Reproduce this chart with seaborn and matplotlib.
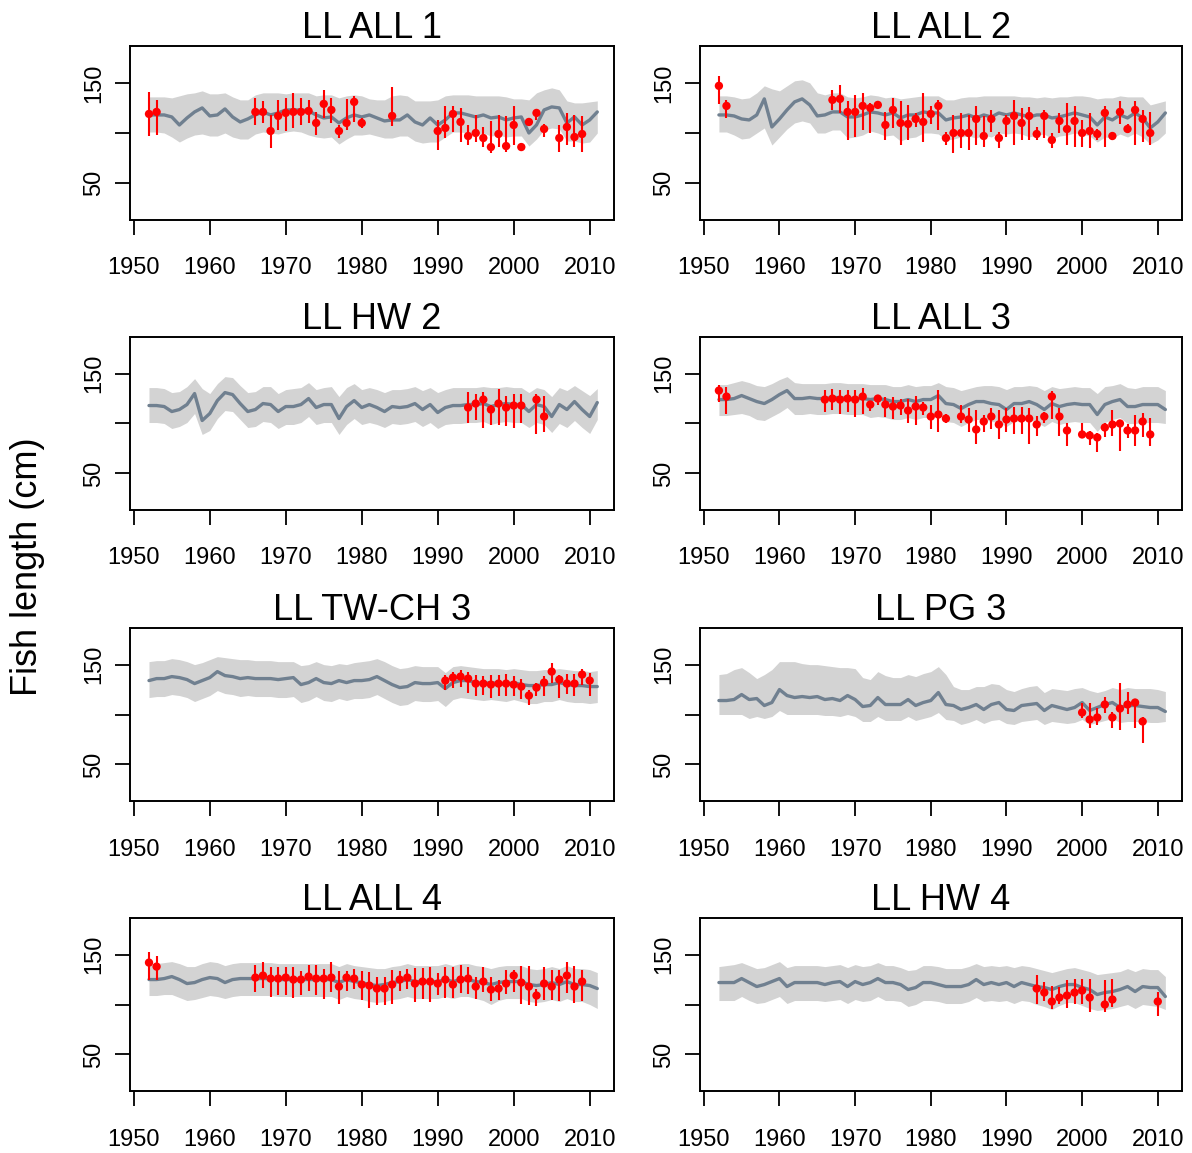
import numpy as np
import seaborn as sns
import matplotlib.pyplot as plt

# model years (median and 95% band are given per year)
years = list(range(1952, 2012))

# ---- LL ALL 1
med1 = [118, 118, 118, 116, 108, 115, 121, 125, 117, 118,
        124, 116, 111, 114, 118, 121, 118, 120, 123, 123,
        123, 122, 118, 115, 116, 110, 115, 118, 116, 118,
        115, 112, 113, 113, 118, 111, 108, 115, 108, 113,
        120, 120, 118, 116, 118, 115, 116, 113, 115, 116,
        100, 108, 123, 126, 125, 110, 116, 108, 113, 121]
hi1 = [136, 136, 136, 135, 137, 139, 140, 142, 139, 139,
       140, 136, 133, 133, 138, 140, 140, 140, 139, 140,
       140, 140, 137, 138, 138, 135, 137, 138, 137, 134,
       133, 133, 137, 138, 137, 132, 132, 132, 133, 137,
       138, 138, 138, 137, 137, 137, 137, 136, 134, 134,
       133, 140, 143, 145, 143, 132, 130, 130, 131, 132]
lo1 = [101, 101, 100, 96, 91, 95, 98, 99, 97, 97,
       100, 96, 94, 94, 99, 101, 100, 99, 101, 102,
       101, 98, 96, 95, 96, 89, 94, 98, 98, 99,
       97, 95, 95, 97, 97, 92, 90, 91, 91, 96,
       101, 101, 100, 98, 100, 97, 98, 96, 97, 97,
       87, 94, 103, 105, 104, 92, 92, 90, 91, 100]
oyr1 = [1952, 1953, 1966, 1967, 1968, 1969, 1970, 1971, 1972, 1973,
        1974, 1975, 1976, 1977, 1978, 1979, 1980, 1984, 1990, 1991,
        1992, 1993, 1994, 1995, 1996, 1997, 1998, 1999, 2000, 2001,
        2002, 2003, 2004, 2006, 2007, 2008, 2009]
oval1 = [119, 121, 121, 121, 102, 117, 120, 121, 121, 122,
         110, 129, 123, 102, 110, 131, 110, 117, 102, 105,
         119, 111, 97, 100, 95, 86, 99, 87, 108, 86,
         111, 120, 104, 95, 106, 96, 99]
olo1 = [97, 98, 108, 110, 85, 103, 102, 105, 108, 110,
        98, 115, 110, 95, 103, 111, 105, 107, 83, 95,
        101, 91, 88, 91, 86, 80, 86, 81, 88, 83,
        107, 113, 96, 81, 88, 86, 81]
ohi1 = [141, 133, 135, 132, 118, 133, 135, 140, 135, 133,
        121, 143, 135, 108, 134, 137, 115, 146, 113, 127,
        127, 125, 108, 118, 106, 112, 118, 117, 127, 90,
        115, 123, 109, 108, 120, 118, 117]

# ---- LL ALL 2
med2 = [118, 118, 117, 114, 113, 118, 134, 106, 114, 123,
        131, 134, 128, 117, 118, 121, 121, 116, 116, 118,
        121, 120, 118, 120, 115, 118, 118, 121, 120, 120,
        113, 115, 116, 118, 115, 118, 116, 120, 118, 120,
        118, 116, 118, 118, 115, 116, 118, 120, 118, 116,
        108, 116, 113, 118, 115, 120, 115, 105, 111, 120]
hi2 = [137, 137, 136, 134, 135, 140, 147, 144, 142, 147,
       152, 153, 150, 140, 138, 140, 140, 136, 135, 136,
       138, 137, 135, 136, 134, 135, 136, 137, 137, 137,
       133, 133, 135, 136, 136, 137, 137, 137, 137, 137,
       136, 136, 135, 136, 135, 136, 136, 137, 137, 136,
       134, 135, 135, 137, 136, 136, 136, 128, 130, 132]
lo2 = [101, 101, 98, 94, 95, 100, 105, 88, 96, 104,
       110, 112, 110, 100, 100, 103, 103, 95, 96, 98,
       102, 100, 97, 98, 92, 95, 96, 100, 100, 99,
       93, 94, 96, 97, 95, 98, 96, 100, 99, 100,
       99, 96, 98, 99, 94, 97, 98, 100, 99, 97,
       91, 96, 95, 99, 96, 100, 96, 89, 93, 100]
oyr2 = [1952, 1953] + list(range(1967, 2010))
oval2 = [147, 127,
         133, 134, 121, 121, 127, 125, 128, 108, 123, 110,
         109, 114, 111, 119, 127, 95, 100, 100, 100, 114,
         97, 114, 95, 112, 117, 110, 117, 99, 117, 93,
         112, 104, 112, 100, 102, 99, 120, 97, 121, 104,
         123, 114, 100]
olo2 = [129, 115,
        123, 120, 93, 96, 103, 100, 125, 93, 105, 88,
        93, 106, 91, 109, 103, 88, 80, 85, 83, 88,
        86, 101, 85, 96, 88, 93, 93, 93, 95, 85,
        100, 88, 86, 86, 85, 93, 86, 93, 109, 100,
        88, 91, 88]
ohi2 = [157, 133,
        143, 148, 132, 138, 140, 130, 130, 121, 135, 132,
        128, 120, 140, 127, 133, 101, 118, 120, 118, 127,
        117, 123, 101, 118, 133, 125, 126, 106, 123, 100,
        120, 130, 127, 113, 120, 104, 127, 101, 132, 109,
        132, 123, 121]

# ---- LL HW 2
med3 = [118, 118, 117, 112, 114, 119, 130, 103, 110, 123,
        131, 129, 120, 112, 114, 120, 119, 112, 117, 117,
        119, 125, 116, 119, 119, 105, 117, 123, 116, 119,
        116, 112, 117, 116, 117, 120, 114, 119, 111, 116,
        118, 118, 119, 119, 120, 117, 119, 120, 119, 119,
        112, 119, 117, 107, 119, 114, 122, 114, 107, 121]
hi3 = [136, 136, 135, 131, 132, 137, 145, 135, 130, 140,
       147, 146, 138, 131, 132, 137, 137, 130, 134, 135,
       136, 141, 134, 136, 137, 127, 136, 140, 134, 136,
       134, 131, 134, 134, 135, 137, 133, 136, 131, 134,
       136, 136, 136, 136, 137, 136, 136, 137, 136, 136,
       131, 136, 134, 127, 136, 133, 138, 133, 128, 135]
lo3 = [101, 101, 100, 95, 97, 101, 110, 89, 93, 105,
       113, 112, 104, 96, 97, 102, 101, 95, 99, 99,
       101, 107, 99, 101, 101, 89, 99, 105, 99, 101,
       99, 96, 100, 99, 100, 102, 97, 101, 95, 99,
       100, 100, 101, 101, 102, 99, 101, 102, 101, 101,
       96, 101, 99, 91, 100, 96, 103, 96, 90, 104]
oyr3 = [1994, 1995, 1996, 1997, 1998, 1999, 2000, 2001, 2003, 2004]
oval3 = [116, 120, 124, 114, 120, 116, 118, 118, 124, 107]
olo3 = [100, 104, 95, 98, 98, 97, 95, 101, 89, 91]
ohi3 = [132, 130, 132, 119, 135, 128, 130, 130, 130, 128]

# ---- LL ALL 3
med4 = [124, 124, 125, 128, 125, 122, 120, 124, 129, 133,
        125, 125, 126, 125, 125, 126, 126, 125, 125, 125,
        124, 125, 124, 122, 122, 124, 122, 124, 124, 128,
        120, 119, 115, 119, 122, 122, 120, 119, 114, 120,
        120, 122, 119, 114, 120, 117, 119, 120, 119, 119,
        109, 119, 122, 124, 117, 117, 119, 119, 119, 114]
hi4 = [139, 139, 141, 143, 141, 138, 137, 140, 144, 147,
       141, 140, 140, 140, 140, 141, 141, 140, 140, 140,
       139, 139, 139, 137, 137, 139, 137, 138, 138, 141,
       137, 136, 133, 135, 137, 138, 138, 137, 134, 137,
       137, 138, 137, 133, 137, 135, 136, 137, 136, 136,
       130, 137, 138, 140, 136, 135, 137, 137, 137, 133]
lo4 = [108, 108, 109, 110, 108, 104, 103, 107, 111, 116,
       109, 109, 110, 109, 109, 110, 110, 109, 109, 109,
       106, 107, 106, 104, 104, 106, 104, 106, 106, 110,
       102, 101, 97, 101, 104, 104, 102, 101, 97, 102,
       103, 104, 101, 97, 102, 99, 101, 102, 101, 101,
       92, 101, 104, 106, 100, 100, 101, 101, 101, 100]
oyr4 = ([1952, 1953] + list(range(1966, 1983)) + list(range(1984, 1999))
        + list(range(2000, 2010)))
oval4 = [133, 127,
         124, 125, 124, 125, 124, 127, 119, 125, 119, 117, 118, 113, 117,
         116, 107, 109, 105,
         107, 104, 94, 102, 107, 99, 104, 105, 105, 105, 99, 107, 127,
         107, 93,
         89, 88, 86, 96, 99, 100, 93, 93, 102, 89]
olo4 = [122, 110,
        112, 114, 110, 112, 107, 110, 113, 119, 107, 105, 109, 101, 98,
        109, 94, 91, 101,
        101, 91, 79, 91, 94, 84, 91, 89, 89, 79, 87, 101, 105, 87, 77,
        85, 78, 71, 86, 87, 72, 85, 77, 86, 77]
ohi4 = [139, 137,
        134, 135, 134, 134, 134, 136, 123, 129, 127, 127, 125, 125, 128,
        122, 119, 134, 110,
        119, 116, 114, 109, 116, 114, 116, 117, 117, 116, 108, 112, 133,
        116, 101,
        100, 92, 90, 100, 114, 103, 99, 109, 111, 106]

# ---- LL TW-CH 3
med5 = [134, 136, 136, 138, 137, 135, 131, 134, 137, 143,
        139, 138, 136, 137, 136, 136, 136, 135, 136, 137,
        130, 132, 136, 132, 131, 134, 132, 134, 134, 135,
        138, 134, 130, 127, 128, 132, 131, 131, 132, 126,
        132, 134, 134, 132, 131, 132, 131, 130, 132, 130,
        129, 129, 130, 130, 132, 130, 129, 129, 128, 128]
hi5 = [153, 154, 154, 156, 155, 153, 150, 152, 155, 158,
       157, 156, 155, 155, 154, 154, 154, 153, 153, 153,
       149, 150, 153, 150, 149, 151, 150, 152, 153, 154,
       156, 153, 149, 146, 147, 149, 148, 148, 148, 142,
       148, 149, 148, 147, 146, 146, 146, 145, 146, 145,
       144, 144, 145, 145, 146, 145, 144, 144, 143, 144]
lo5 = [117, 118, 118, 120, 119, 117, 113, 116, 119, 124,
       121, 120, 118, 119, 118, 118, 118, 117, 117, 118,
       112, 114, 118, 114, 113, 116, 114, 116, 116, 117,
       120, 116, 112, 109, 110, 114, 113, 113, 114, 108,
       115, 117, 116, 115, 114, 115, 114, 113, 115, 113,
       111, 111, 113, 113, 115, 113, 112, 112, 111, 112]
oyr5 = list(range(1991, 2011))
oval5 = [134, 137, 138, 136, 131, 131, 130, 131, 131, 130,
         128, 119, 127, 132, 143, 135, 131, 131, 140, 134]
olo5 = [125, 127, 128, 122, 119, 120, 117, 119, 119, 119,
        116, 110, 119, 119, 132, 117, 121, 119, 130, 119]
ohi5 = [140, 143, 145, 143, 140, 139, 140, 140, 141, 139,
        136, 125, 132, 139, 152, 140, 141, 141, 146, 142]

# ---- LL PG 3
med6 = [114, 114, 115, 120, 115, 116, 109, 112, 125, 119,
        117, 118, 117, 118, 115, 116, 114, 119, 115, 108,
        109, 117, 110, 110, 110, 115, 109, 112, 114, 122,
        110, 109, 105, 107, 110, 105, 110, 112, 105, 104,
        109, 110, 111, 104, 109, 107, 105, 107, 112, 104,
        107, 110, 112, 107, 109, 109, 108, 107, 107, 103]
hi6 = [140, 141, 145, 147, 142, 136, 140, 145, 153, 153,
       153, 151, 150, 150, 149, 148, 147, 147, 146, 137,
       135, 143, 139, 137, 137, 140, 138, 141, 143, 148,
       140, 128, 125, 125, 128, 128, 131, 130, 125, 123,
       126, 128, 129, 122, 126, 125, 124, 126, 127, 124,
       122, 124, 127, 125, 127, 126, 126, 126, 125, 123]
lo6 = [100, 100, 100, 100, 96, 98, 96, 98, 104, 100,
       100, 100, 100, 100, 99, 99, 98, 100, 98, 93,
       93, 98, 94, 94, 94, 98, 94, 96, 98, 102,
       95, 94, 90, 92, 95, 91, 94, 95, 91, 90,
       93, 94, 95, 90, 93, 92, 91, 92, 95, 90,
       92, 94, 96, 92, 93, 93, 93, 92, 92, 93]
oyr6 = [2000, 2001, 2002, 2003, 2004, 2005, 2006, 2007, 2008]
oval6 = [102, 95, 97, 110, 97, 106, 110, 112, 93]
olo6 = [96, 86, 89, 102, 86, 84, 101, 86, 71]
ohi6 = [112, 112, 107, 118, 103, 132, 123, 114, 97]

# ---- LL ALL 4
med7 = [125, 125, 126, 128, 125, 121, 122, 125, 127, 126,
        122, 125, 126, 126, 126, 126, 126, 125, 125, 125,
        125, 125, 125, 125, 125, 122, 125, 123, 122, 120,
        119, 120, 122, 123, 125, 123, 123, 123, 123, 125,
        123, 125, 125, 123, 122, 120, 122, 123, 123, 123,
        120, 119, 120, 122, 120, 123, 120, 120, 119, 116]
hi7 = [141, 141, 142, 143, 141, 138, 138, 141, 143, 142,
       139, 141, 142, 142, 142, 142, 142, 141, 141, 141,
       141, 141, 141, 141, 141, 138, 141, 139, 138, 137,
       136, 136, 138, 139, 141, 139, 139, 139, 139, 141,
       139, 141, 141, 139, 138, 136, 138, 139, 139, 139,
       136, 135, 136, 138, 136, 139, 136, 136, 135, 132]
lo7 = [109, 109, 110, 110, 107, 104, 105, 107, 109, 108,
       106, 108, 109, 109, 109, 109, 109, 108, 108, 108,
       108, 108, 108, 108, 108, 105, 108, 106, 105, 103,
       102, 103, 105, 106, 108, 106, 106, 106, 106, 108,
       106, 108, 108, 106, 104, 100, 104, 106, 106, 106,
       103, 102, 103, 105, 103, 106, 103, 103, 100, 96]
oyr7 = [1952, 1953] + list(range(1966, 2010))
oval7 = [142, 138,
         127, 129, 126, 126, 127, 125, 125, 128, 126, 126,
         127, 118, 127, 126, 120, 119, 116, 116, 120, 125,
         127, 121, 123, 123, 121, 125, 120, 125, 126, 118,
         123, 115, 116, 121, 129, 122, 118, 109, 121, 118,
         125, 129, 118, 123]
olo7 = [125, 125,
        113, 117, 108, 110, 110, 107, 110, 114, 110, 106,
        113, 101, 114, 116, 105, 96, 99, 99, 101, 114,
        116, 103, 106, 103, 110, 107, 107, 112, 111, 106,
        113, 104, 105, 111, 113, 101, 99, 98, 105, 105,
        104, 112, 102, 104]
ohi7 = [153, 149,
        140, 143, 138, 138, 138, 138, 134, 140, 140, 136,
        143, 134, 134, 136, 134, 133, 128, 128, 135, 134,
        136, 137, 137, 138, 132, 138, 138, 140, 138, 128,
        138, 128, 125, 135, 135, 139, 139, 116, 138, 135,
        135, 143, 139, 135]

# ---- LL HW 4
med8 = [122, 122, 122, 126, 122, 118, 120, 123, 126, 118,
        122, 122, 122, 122, 120, 122, 123, 118, 123, 120,
        122, 126, 122, 122, 120, 115, 117, 122, 122, 120,
        118, 118, 118, 120, 125, 120, 122, 120, 122, 118,
        122, 120, 118, 117, 115, 118, 120, 120, 117, 115,
        110, 112, 113, 115, 118, 113, 118, 117, 117, 108]
hi8 = [138, 139, 140, 142, 139, 136, 137, 140, 143, 137,
       139, 139, 139, 139, 138, 139, 140, 137, 140, 138,
       139, 142, 139, 139, 137, 134, 135, 139, 139, 138,
       136, 136, 136, 138, 141, 138, 139, 138, 139, 137,
       139, 138, 136, 134, 132, 134, 136, 137, 135, 133,
       130, 131, 132, 133, 136, 133, 136, 135, 135, 128]
lo8 = [104, 104, 104, 108, 104, 101, 102, 105, 108, 101,
       104, 104, 104, 104, 103, 104, 105, 101, 105, 103,
       104, 108, 104, 104, 103, 98, 100, 104, 104, 103,
       101, 101, 101, 103, 107, 103, 104, 103, 104, 101,
       104, 103, 100, 98, 95, 99, 102, 102, 99, 96,
       94, 95, 96, 98, 100, 96, 100, 99, 98, 95]
oyr8 = [1994, 1995, 1996, 1997, 1998, 1999, 2000, 2001, 2003, 2004, 2010]
oval8 = [116, 112, 103, 107, 109, 112, 114, 107, 100, 105, 103]
olo8 = [101, 104, 95, 101, 96, 101, 101, 92, 92, 97, 88]
ohi8 = [130, 123, 119, 118, 125, 126, 126, 126, 125, 126, 113]

titles = ["LL ALL 1", "LL ALL 2", "LL HW 2", "LL ALL 3",
          "LL TW-CH 3", "LL PG 3", "LL ALL 4", "LL HW 4"]
panels = [
    (med1, hi1, lo1, oyr1, oval1, olo1, ohi1),
    (med2, hi2, lo2, oyr2, oval2, olo2, ohi2),
    (med3, hi3, lo3, oyr3, oval3, olo3, ohi3),
    (med4, hi4, lo4, oyr4, oval4, olo4, ohi4),
    (med5, hi5, lo5, oyr5, oval5, olo5, ohi5),
    (med6, hi6, lo6, oyr6, oval6, olo6, ohi6),
    (med7, hi7, lo7, oyr7, oval7, olo7, ohi7),
    (med8, hi8, lo8, oyr8, oval8, olo8, ohi8),
]

sns.set_style("ticks")
plt.rcParams["font.family"] = ["Liberation Sans", "DejaVu Sans"]
plt.rcParams["text.color"] = "black"

W, H = 1192, 1153
fig = plt.figure(figsize=(W / 100, H / 100), dpi=100)

# panel boxes in pixels: (left, right) per column, (top, bottom) per row
cols = [(130, 614), (700, 1182)]
rows = [(46, 220), (337, 510), (628, 801), (918, 1091)]

for idx, (title, data) in enumerate(zip(titles, panels)):
    med, hi, lo, oyr, oval, olo, ohi = data
    r, c = divmod(idx, 2)
    x0, x1 = cols[c]
    y0, y1 = rows[r]
    ax = fig.add_axes([x0 / W, 1 - y1 / H, (x1 - x0) / W, (y1 - y0) / H])

    ax.fill_between(years, lo, hi, color="#d3d3d3", lw=0, zorder=1)
    sns.lineplot(x=years, y=med, ax=ax, color="#708090", lw=2.4, zorder=2)
    ax.vlines(oyr, olo, ohi, color="red", lw=1.5, zorder=3)
    sns.scatterplot(x=oyr, y=oval, ax=ax, color="red", s=36,
                    edgecolor="none", zorder=4)

    ax.set_xlim(1949.5, 2013.2)
    ax.set_ylim(13.3, 186.7)
    ax.set_xticks(range(1950, 2011, 10))
    ax.set_xticklabels([str(y) for y in range(1950, 2011, 10)], fontsize=17)
    ax.set_yticks([50, 100, 150])
    ax.set_yticklabels(["50", "", "150"], rotation=90, va="center",
                       fontsize=17)
    ax.tick_params(axis="x", length=11, width=1.3, pad=16, colors="black")
    ax.tick_params(axis="y", length=11, width=1.3, pad=7, colors="black")
    for sp in ax.spines.values():
        sp.set_visible(True)
        sp.set_linewidth(1.4)
        sp.set_color("black")
    ax.set_xlabel("")
    ax.set_ylabel("")
    ax.set_title(title, fontsize=26, pad=3, color="black")

fig.text(28 / W, 1 - 567 / H, "Fish length (cm)", rotation=90,
         ha="center", va="center", fontsize=26, color="black")

fig.savefig("out.png", dpi=100)
